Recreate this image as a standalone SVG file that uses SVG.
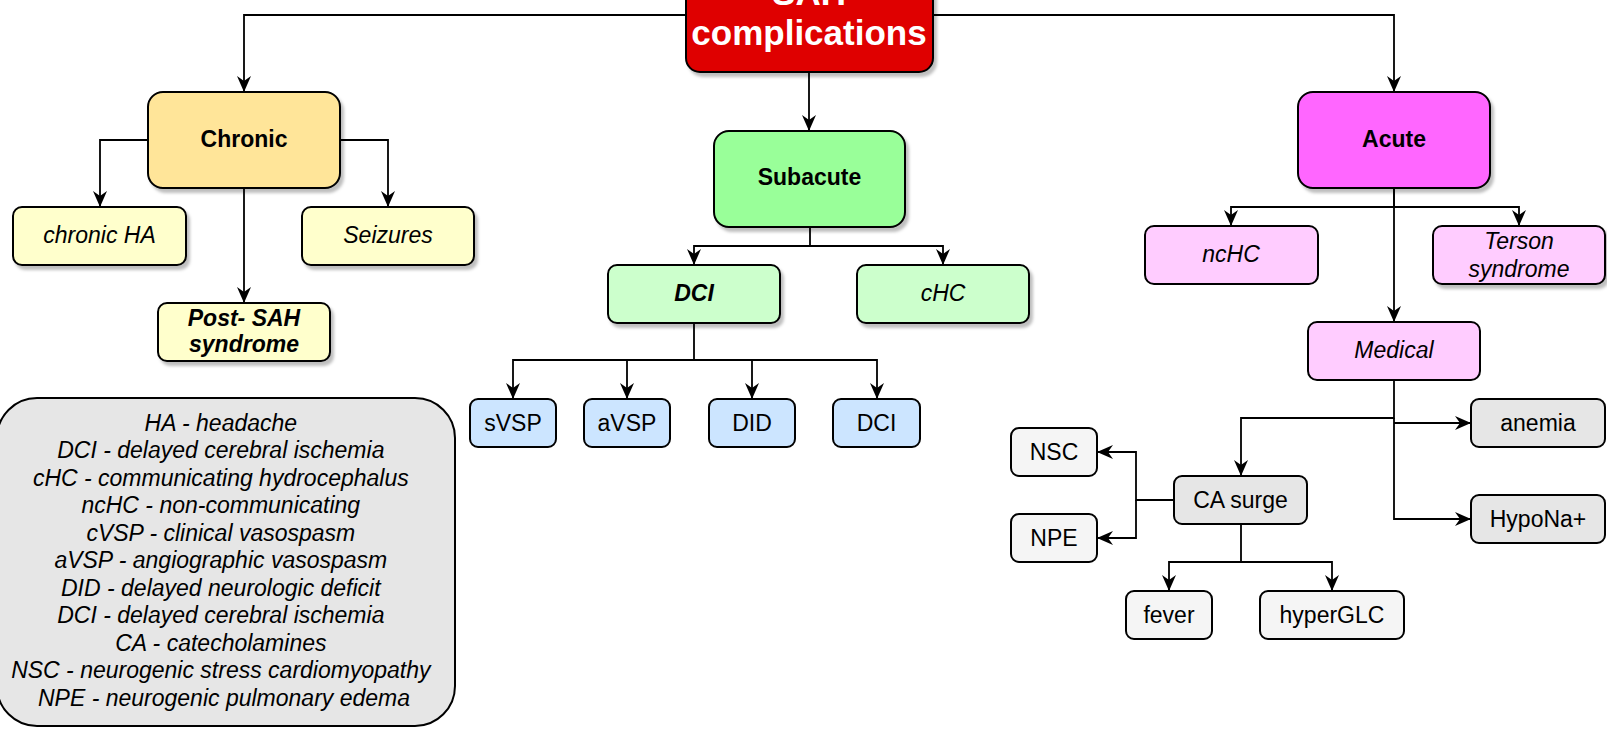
<svg xmlns="http://www.w3.org/2000/svg" width="1607" height="732" viewBox="0 0 1607 732">
<defs>
<filter id="sh" x="-10%" y="-10%" width="130%" height="140%">
<feDropShadow dx="3" dy="4" stdDeviation="1.5" flood-color="#000" flood-opacity="0.25"/>
</filter>
<marker id="ar" viewBox="0 0 16 14" refX="16" refY="7" markerWidth="16" markerHeight="14" markerUnits="userSpaceOnUse" orient="auto">
<path d="M0,0 L16,7 L0,14 L5,7 Z" fill="#000"/>
</marker>
<style>
.b{stroke:#000;stroke-width:2}
.t{font-family:"Liberation Sans",Arial,sans-serif;font-size:23px;fill:#000;text-anchor:middle}
.i{font-style:italic}
.bd{font-weight:bold}
.c{fill:none;stroke:#000;stroke-width:1.8;marker-end:url(#ar)}
</style>
</defs>
<rect width="1607" height="732" fill="#fff"/>
<g id="connectors">
<path class="c" d="M686,15 H244 V92"/>
<path class="c" d="M933,15 H1394 V92"/>
<path class="c" d="M809,72 V131"/>
<path class="c" d="M148,140 H100 V207"/>
<path class="c" d="M340,140 H388 V207"/>
<path class="c" d="M244,188 V303"/>
<path class="c" d="M810,227 V246 H694 V265"/>
<path class="c" d="M810,246 H943 V265"/>
<path class="c" d="M694,323 V360 H513 V399"/>
<path class="c" d="M694,360 H627 V399"/>
<path class="c" d="M694,360 H752 V399"/>
<path class="c" d="M694,360 H877 V399"/>
<path class="c" d="M1394,188 V207 H1231 V226"/>
<path class="c" d="M1394,207 H1519 V226"/>
<path class="c" d="M1394,188 V322"/>
<path class="c" d="M1394,380 V418 H1241 V476"/>
<path class="c" d="M1394,423 H1471"/>
<path class="c" d="M1394,418 V519 H1471"/>
<path class="c" d="M1174,500 H1136 V452 H1097"/>
<path class="c" d="M1136,500 V538 H1097"/>
<path class="c" d="M1241,524 V562 H1169 V591"/>
<path class="c" d="M1241,562 H1332 V591"/>
</g>
<g id="sah">
<rect class="b" x="686" y="-20" width="247" height="92" rx="14" fill="#df0000" filter="url(#sh)"/>
<text class="t bd" x="809" y="5" style="font-size:35px;fill:#fff">SAH</text>
<text class="t bd" x="809" y="45" style="font-size:35px;fill:#fff">complications</text>
</g>
<g id="chronic">
<rect class="b" x="148" y="92" width="192" height="96" rx="15" fill="#ffe599" filter="url(#sh)"/>
<text class="t bd" x="244" y="147">Chronic</text>
</g>
<g id="subacute">
<rect class="b" x="714" y="131" width="191" height="96" rx="15" fill="#99ff99" filter="url(#sh)"/>
<text class="t bd" x="809.5" y="185">Subacute</text>
</g>
<g id="acute">
<rect class="b" x="1298" y="92" width="192" height="96" rx="15" fill="#ff66ff" filter="url(#sh)"/>
<text class="t bd" x="1394" y="147">Acute</text>
</g>
<g id="chronicha">
<rect class="b" x="13" y="207" width="173" height="58" rx="9" fill="#ffffcc" filter="url(#sh)"/>
<text class="t i" x="99.5" y="243">chronic HA</text>
</g>
<g id="seizures">
<rect class="b" x="302" y="207" width="172" height="58" rx="9" fill="#ffffcc" filter="url(#sh)"/>
<text class="t i" x="388" y="243">Seizures</text>
</g>
<g id="postsah">
<rect class="b" x="158" y="303" width="172" height="58" rx="9" fill="#ffffcc" filter="url(#sh)"/>
<text class="t i bd" x="244" y="326">Post- SAH</text>
<text class="t i bd" x="244" y="352">syndrome</text>
</g>
<g id="dci">
<rect class="b" x="608" y="265" width="172" height="58" rx="9" fill="#ccffcc" filter="url(#sh)"/>
<text class="t i bd" x="694" y="301">DCI</text>
</g>
<g id="chc">
<rect class="b" x="857" y="265" width="172" height="58" rx="9" fill="#ccffcc" filter="url(#sh)"/>
<text class="t i" x="943" y="301">cHC</text>
</g>
<g id="svsp">
<rect class="b" x="470" y="399" width="86" height="48" rx="8" fill="#cce5ff"/>
<text class="t" x="513" y="431">sVSP</text>
</g>
<g id="avsp">
<rect class="b" x="584" y="399" width="86" height="48" rx="8" fill="#cce5ff"/>
<text class="t" x="627" y="431">aVSP</text>
</g>
<g id="did">
<rect class="b" x="709" y="399" width="86" height="48" rx="8" fill="#cce5ff"/>
<text class="t" x="752" y="431">DID</text>
</g>
<g id="dci2">
<rect class="b" x="833" y="399" width="87" height="48" rx="8" fill="#cce5ff"/>
<text class="t" x="876.5" y="431">DCI</text>
</g>
<g id="nchc">
<rect class="b" x="1145" y="226" width="173" height="58" rx="9" fill="#ffccff"/>
<text class="t i" x="1231" y="262">ncHC</text>
</g>
<g id="terson">
<rect class="b" x="1433" y="226" width="172" height="58" rx="9" fill="#ffccff" filter="url(#sh)"/>
<text class="t i" x="1519" y="249">Terson</text>
<text class="t i" x="1519" y="277">syndrome</text>
</g>
<g id="medical">
<rect class="b" x="1308" y="322" width="172" height="58" rx="9" fill="#ffccff"/>
<text class="t i" x="1394" y="358">Medical</text>
</g>
<g id="anemia">
<rect class="b" x="1471" y="399" width="134" height="48" rx="8" fill="#e6e6e6"/>
<text class="t" x="1538" y="431">anemia</text>
</g>
<g id="hypona">
<rect class="b" x="1471" y="495" width="134" height="48" rx="8" fill="#e6e6e6"/>
<text class="t" x="1538" y="527">HypoNa+</text>
</g>
<g id="casurge">
<rect class="b" x="1174" y="476" width="133" height="48" rx="8" fill="#e6e6e6"/>
<text class="t" x="1240.5" y="508">CA surge</text>
</g>
<g id="nsc">
<rect class="b" x="1011" y="428" width="86" height="48" rx="8" fill="#f5f5f5"/>
<text class="t" x="1054" y="460">NSC</text>
</g>
<g id="npe">
<rect class="b" x="1011" y="514" width="86" height="48" rx="8" fill="#f5f5f5"/>
<text class="t" x="1054" y="546">NPE</text>
</g>
<g id="fever">
<rect class="b" x="1126" y="591" width="86" height="48" rx="8" fill="#f5f5f5"/>
<text class="t" x="1169" y="623">fever</text>
</g>
<g id="hyperglc">
<rect class="b" x="1260" y="591" width="144" height="48" rx="8" fill="#f5f5f5"/>
<text class="t" x="1332" y="623">hyperGLC</text>
</g>
<g id="legend">
<rect class="b" x="-3" y="398" width="458" height="328" rx="40" fill="#e6e6e6"/>
<text class="t i" x="224">
<tspan x="224" y="430.5">HA - headache</tspan>
<tspan x="224" y="458">DCI - delayed cerebral ischemia</tspan>
<tspan x="224" y="485.5">cHC - communicating hydrocephalus</tspan>
<tspan x="224" y="513">ncHC - non-communicating</tspan>
<tspan x="224" y="540.5">cVSP - clinical vasospasm</tspan>
<tspan x="224" y="568">aVSP - angiographic vasospasm</tspan>
<tspan x="224" y="595.5">DID - delayed neurologic deficit</tspan>
<tspan x="224" y="623">DCI - delayed cerebral ischemia</tspan>
<tspan x="224" y="650.5">CA - catecholamines</tspan>
<tspan x="224" y="678">NSC - neurogenic stress cardiomyopathy</tspan>
<tspan x="224" y="705.5">NPE - neurogenic pulmonary edema</tspan>
</text>
</g>
</svg>
